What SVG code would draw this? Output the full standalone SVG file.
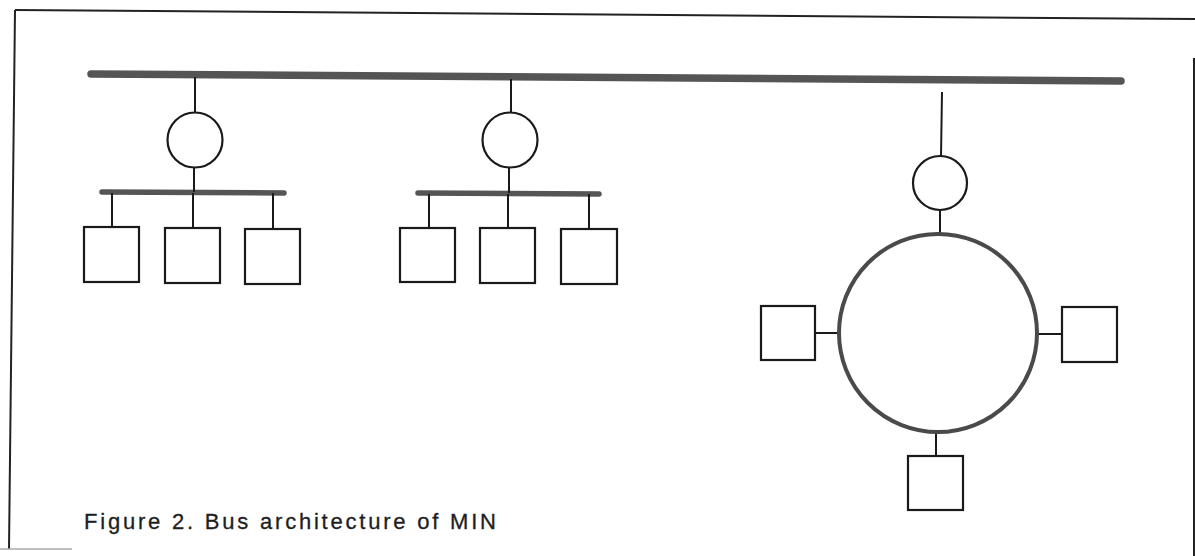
<svg xmlns="http://www.w3.org/2000/svg" width="1195" height="556" viewBox="0 0 1195 556">
  <style>
    .frame { stroke: #222; stroke-width: 2; fill: none; }
    .bus { stroke: #555; stroke-linecap: round; fill: none; }
    .wire { stroke: #1a1a1a; stroke-width: 2; fill: none; }
    .node { stroke: #1a1a1a; stroke-width: 2.2; fill: #fff; }
    .ring { stroke: #4a4a4a; stroke-width: 4; fill: none; }
    .caption { font-family: "Liberation Sans", Arial, sans-serif; font-size: 22px; fill: #1e1e1e; stroke: #1e1e1e; stroke-width: 0.3; }
  </style>
  <rect width="1195" height="556" fill="#fff"/>

  <!-- page frame -->
  <g id="frame">
    <line class="frame" x1="15" y1="10" x2="1195" y2="19"/>
    <line class="frame" x1="15" y1="10" x2="9" y2="549"/>
    <line class="frame" x1="1194" y1="58" x2="1194" y2="556"/>
    <line x1="0" y1="549" x2="72" y2="549" stroke="#aaa" stroke-width="1.5"/>
  </g>

  <!-- buses and connecting wires -->
  <g id="connectors">
    <line class="bus" x1="91" y1="74" x2="1121" y2="81" stroke-width="7.5"/>
    <line class="bus" x1="102" y1="192" x2="284" y2="193" stroke-width="5.5"/>
    <line class="bus" x1="418" y1="193" x2="599" y2="194" stroke-width="5.5"/>

    <!-- left cluster -->
    <line class="wire" x1="195" y1="77" x2="195" y2="112"/>
    <line class="wire" x1="194" y1="167" x2="194" y2="192"/>
    <line class="wire" x1="112" y1="193" x2="112" y2="227"/>
    <line class="wire" x1="193" y1="193" x2="193" y2="228"/>
    <line class="wire" x1="273" y1="193" x2="273" y2="229"/>

    <!-- middle cluster -->
    <line class="wire" x1="511" y1="79" x2="511" y2="113"/>
    <line class="wire" x1="509" y1="167" x2="509" y2="193"/>
    <line class="wire" x1="429" y1="194" x2="429" y2="228"/>
    <line class="wire" x1="508" y1="194" x2="508" y2="228"/>
    <line class="wire" x1="589" y1="194" x2="589" y2="229"/>

    <!-- ring cluster -->
    <line class="wire" x1="942" y1="92" x2="941" y2="156"/>
    <line class="wire" x1="940" y1="210" x2="940" y2="235"/>
    <line class="wire" x1="815" y1="333" x2="839" y2="333"/>
    <line class="wire" x1="1037" y1="334" x2="1062" y2="334"/>
    <line class="wire" x1="936" y1="431" x2="936" y2="456"/>
  </g>

  <!-- left cluster nodes -->
  <g id="gw-left"><circle class="node" cx="195" cy="140" r="27.5"/></g>
  <g id="host-l1"><rect class="node" x="84" y="227" width="55" height="55"/></g>
  <g id="host-l2"><rect class="node" x="165" y="228" width="55" height="55"/></g>
  <g id="host-l3"><rect class="node" x="245" y="229" width="55" height="55"/></g>

  <!-- middle cluster nodes -->
  <g id="gw-mid"><circle class="node" cx="510" cy="140" r="27.5"/></g>
  <g id="host-m1"><rect class="node" x="400" y="228" width="55" height="54"/></g>
  <g id="host-m2"><rect class="node" x="480" y="228" width="55" height="55"/></g>
  <g id="host-m3"><rect class="node" x="561" y="229" width="56" height="55"/></g>

  <!-- ring cluster nodes -->
  <g id="gw-right"><circle class="node" cx="940" cy="183" r="27"/></g>
  <g id="ring"><circle class="ring" cx="938" cy="333" r="99"/></g>
  <g id="host-r-left"><rect class="node" x="761" y="306" width="54" height="54"/></g>
  <g id="host-r-right"><rect class="node" x="1062" y="307" width="55" height="55"/></g>
  <g id="host-r-bottom"><rect class="node" x="908" y="456" width="55" height="54"/></g>

  <text class="caption" x="84" y="529" textLength="412" lengthAdjust="spacing">Figure 2. Bus architecture of MIN</text>
</svg>
